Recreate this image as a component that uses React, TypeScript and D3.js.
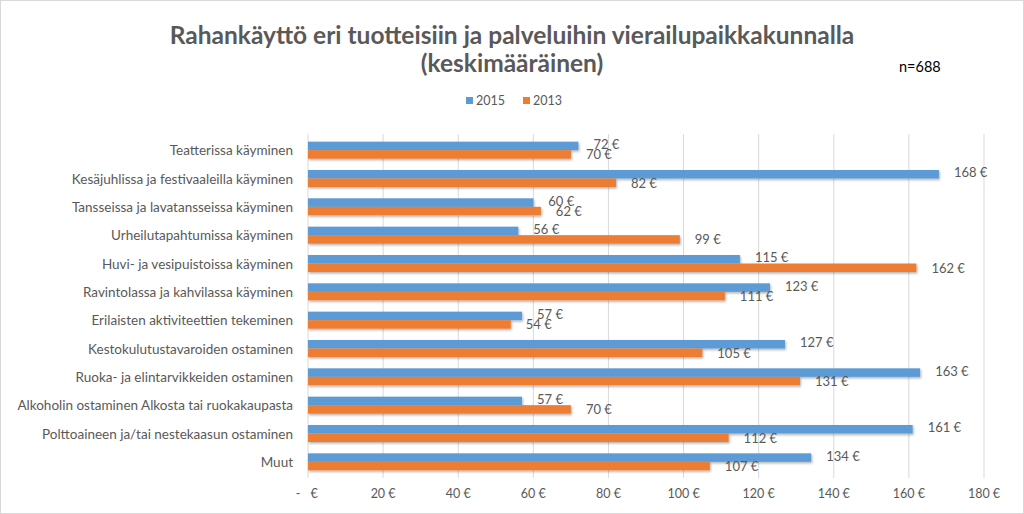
import React from "react";
import * as d3 from "d3";

const categories = [
  "Teatterissa käyminen",
  "Kesäjuhlissa ja festivaaleilla käyminen",
  "Tansseissa ja lavatansseissa käyminen",
  "Urheilutapahtumissa käyminen",
  "Huvi- ja vesipuistoissa käyminen",
  "Ravintolassa ja kahvilassa käyminen",
  "Erilaisten aktiviteettien tekeminen",
  "Kestokulutustavaroiden ostaminen",
  "Ruoka- ja elintarvikkeiden ostaminen",
  "Alkoholin ostaminen Alkosta tai ruokakaupasta",
  "Polttoaineen ja/tai nestekaasun ostaminen",
  "Muut",
];
const values2015 = [72, 168, 60, 56, 115, 123, 57, 127, 163, 57, 161, 134];
const values2013 = [70, 82, 62, 99, 162, 111, 54, 105, 131, 70, 112, 107];
const seriesNames = ["2015", "2013"];
const tickValues = [0, 20, 40, 60, 80, 100, 120, 140, 160, 180];
const tickLabels = ["-  €", "20 €", "40 €", "60 €", "80 €", "100 €", "120 €", "140 €", "160 €", "180 €"];

const W = 1024;
const H = 514;
const colors = ["#5B9BD5", "#ED7D31"];
const textColor = "#595959";
const font = "Lato, 'Open Sans', sans-serif";

export default function App() {
  const x = d3.scaleLinear().domain([0, 180]).range([308, 984]);
  const y = d3.scaleBand().domain(categories).range([136, 476]).paddingInner(0.4).paddingOuter(0.2);
  const bw = y.bandwidth() / 2;
  const series = [values2015, values2013];

  return (
    <svg width={W} height={H} style={{ position: "absolute", left: 0, top: 0 }} fontFamily={font}>
      <defs>
        <filter id="sh" x="-5%" y="-50%" width="110%" height="200%">
          <feDropShadow dx="1" dy="1.5" stdDeviation="1" floodColor="#000" floodOpacity="0.3" />
        </filter>
      </defs>
      <rect x={0.5} y={0.5} width={W - 1} height={H - 1} fill="#fff" stroke="#d9d9d9" />
      <text x={512} y={44} textAnchor="middle" fontSize={24.5} fontWeight="bold" fill={textColor}>
        Rahankäyttö eri tuotteisiin ja palveluihin vierailupaikkakunnalla
      </text>
      <text x={512} y={72} textAnchor="middle" fontSize={24.5} fontWeight="bold" fill={textColor}>
        (keskimääräinen)
      </text>
      <text x={899} y={72} fontSize={14.5} fill="#000">n=688</text>

      {seriesNames.map((s, i) => (
        <g key={s} transform={`translate(${466 + i * 57},0)`}>
          <rect x={0} y={97} width={7} height={7} fill={colors[i]} />
          <text x={10} y={105} fontSize={12.5} fill={textColor}>{s}</text>
        </g>
      ))}

      {tickValues.map((t, i) => (
        <g key={t}>
          {i > 0 && (
            <line x1={x(t)} x2={x(t)} y1={134} y2={478} stroke="#d9d9d9" strokeWidth={1} />
          )}
          {i === 0 ? (
            <g>
              <text x={x(t) - 10} y={498} textAnchor="middle" fontSize={12.5} fill={textColor}>-</text>
              <text x={x(t) + 6} y={498} textAnchor="middle" fontSize={12.5} fill={textColor}>€</text>
            </g>
          ) : (
            <text x={x(t)} y={498} textAnchor="middle" fontSize={12.5} fill={textColor}>
              {tickLabels[i]}
            </text>
          )}
        </g>
      ))}
      <line x1={x(0)} x2={x(0)} y1={134} y2={478} stroke="#d9d9d9" />

      {categories.map((c) => (
        <text key={c} x={293} y={(y(c) as number) + bw + 5} textAnchor="end" fontSize={13.5} fill={textColor}>
          {c}
        </text>
      ))}

      {series.map((vals, si) => (
        <g key={si}>
          {vals.map((v, ci) => {
            const yy = (y(categories[ci]) as number) + si * bw;
            return (
              <g key={ci}>
                <rect x={x(0)} y={yy} width={x(v) - x(0)} height={bw} fill={colors[si]} filter="url(#sh)" />
                <text x={x(v) + 15} y={yy + bw / 2 + 4 - (si === 0 ? 1 : -1)} fontSize={13} fill={textColor}>
                  {v} €
                </text>
              </g>
            );
          })}
        </g>
      ))}
    </svg>
  );
}
